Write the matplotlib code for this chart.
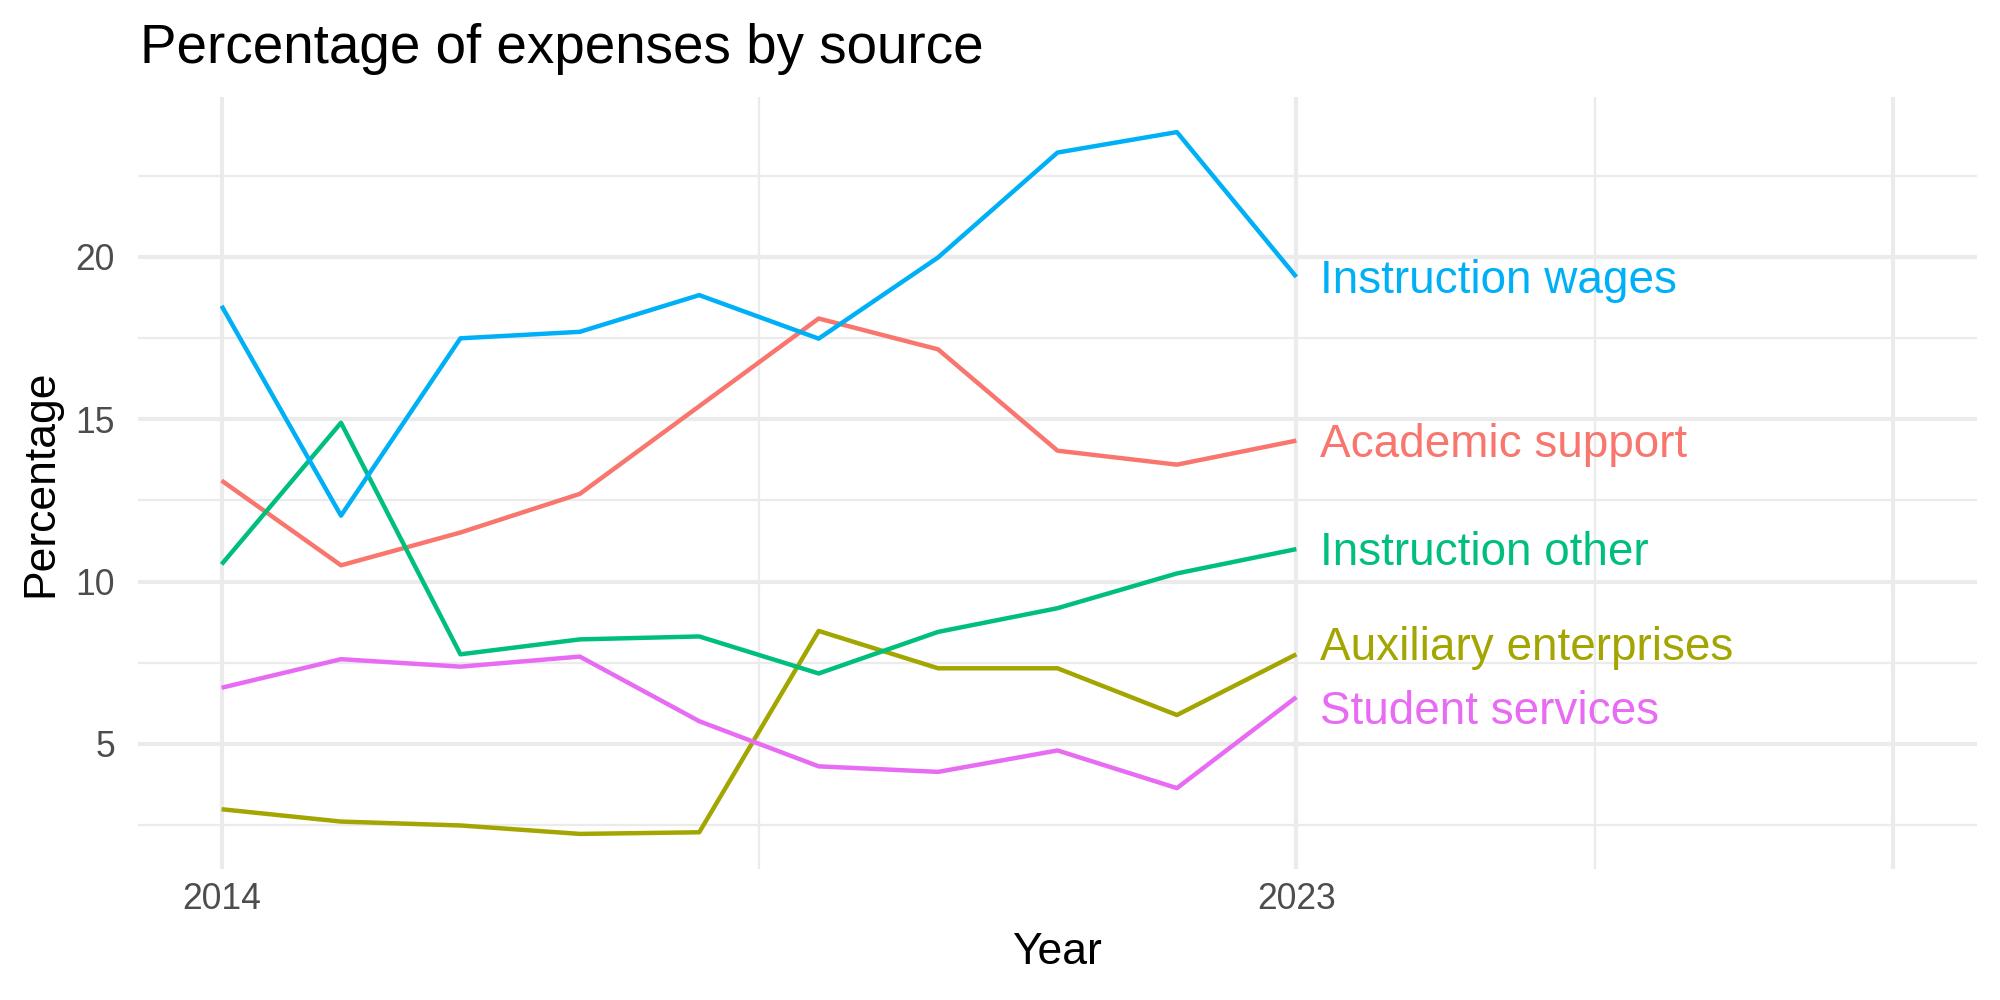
import matplotlib
matplotlib.use("Agg")
import matplotlib.pyplot as plt
import numpy as np

plt.rcParams['font.family'] = ['Liberation Sans', 'DejaVu Sans']

years = [2014, 2015, 2016, 2017, 2018, 2019, 2020, 2021, 2022, 2023]

sources = ["Academic support", "Auxiliary enterprises", "Instruction other",
           "Instruction wages", "Student services"]

academic_support = [13.11, 10.50, 11.51, 12.70, 15.40, 18.10, 17.15, 14.03, 13.60, 14.34]
auxiliary_enterprises = [2.99, 2.61, 2.49, 2.23, 2.28, 8.48, 7.33, 7.33, 5.89, 7.76]
instruction_other = [10.53, 14.89, 7.76, 8.22, 8.31, 7.17, 8.45, 9.18, 10.25, 11.00]
instruction_wages = [18.49, 12.03, 17.49, 17.69, 18.82, 17.48, 19.98, 23.21, 23.84, 19.38]
student_services = [6.73, 7.61, 7.38, 7.69, 5.70, 4.31, 4.14, 4.80, 3.64, 6.44]

colors = ["#F8766D", "#A3A500", "#00BF7D", "#00B0F6", "#E76BF3"]

x_ticks = [2014, 2023, 2028]
x_tick_labels = ["2014", "2023", ""]
y_ticks = [5, 10, 15, 20]


def plot():
    series = [academic_support, auxiliary_enterprises, instruction_other,
              instruction_wages, student_services]
    # small nudges so the two lower labels don't collide
    label_nudge = [0.0, 0.34, 0.0, 0.0, -0.31]

    fig = plt.figure(figsize=(10, 5), dpi=200)
    ax = fig.add_axes([0.069, 0.131, 0.9195, 0.772])

    # ggplot-like 5% expansion, x reaches 2028
    ax.set_xlim(2014 - 0.05 * 14, 2028 + 0.05 * 14)
    ymin = min(min(s) for s in series)
    ymax = max(max(s) for s in series)
    pad = 0.05 * (ymax - ymin)
    ax.set_ylim(ymin - pad, ymax + pad)

    ax.set_xticks(x_ticks)
    ax.set_xticklabels(x_tick_labels)
    ax.set_xticks([2018.5, 2025.5], minor=True)
    ax.set_yticks(y_ticks)
    ax.set_yticks([2.5, 7.5, 12.5, 17.5, 22.5], minor=True)

    ax.grid(which='major', color='#EBEBEB', linewidth=1.5)
    ax.grid(which='minor', color='#EBEBEB', linewidth=0.8)
    ax.set_axisbelow(True)
    for sp in ax.spines.values():
        sp.set_visible(False)
    ax.tick_params(axis='both', which='both', length=0, labelsize=12.8,
                   labelcolor='#4D4D4D')
    ax.tick_params(axis='x', pad=4.7)
    ax.tick_params(axis='y', pad=8.3)

    for name, vals, col, nud in zip(sources, series, colors, label_nudge):
        ax.plot(years, vals, color=col, linewidth=1.6, solid_capstyle='butt')
        ax.annotate(name, (years[-1] + 0.2, vals[-1] + nud),
                    xytext=(0, -5.9), textcoords='offset points',
                    ha='left', va='baseline', color=col, fontsize=16.5)

    fig.text(0.07, 0.937, "Percentage of expenses by source", fontsize=19.7,
             ha='left', va='baseline', color='black')
    fig.text(0.5285, 0.047, "Year", fontsize=16, ha='center', va='center')
    fig.text(0.0205, 0.517, "Percentage", fontsize=16, rotation=90,
             ha='center', va='center')

    fig.savefig("out.png", dpi=200, facecolor='white')


if __name__ == "__main__":
    plot()
